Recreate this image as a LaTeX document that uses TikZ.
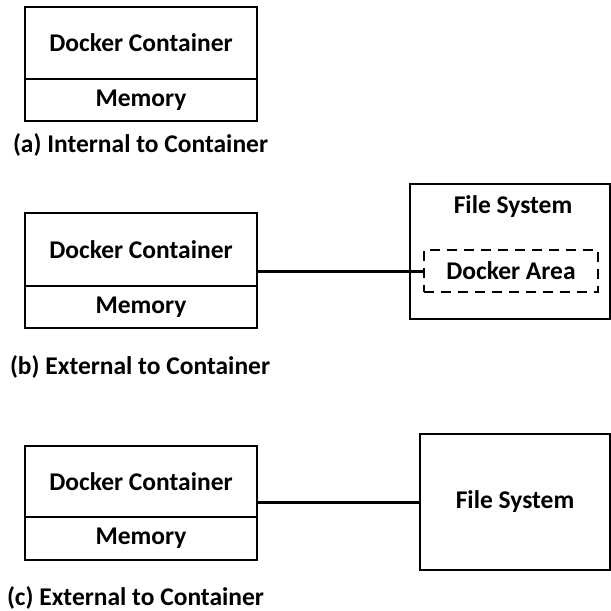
\documentclass[tikz,border=0pt]{standalone}
\usepackage{fontspec}
\setmainfont{Carlito}
\begin{document}
\begin{tikzpicture}[x=1pt,y=-1pt,
  every node/.style={font=\fontsize{25.5}{30}\selectfont\bfseries, inner sep=0pt, outer sep=0pt},
  box/.style={draw=black, line width=1.8pt, rectangle, anchor=north west},
  dashbox/.style={draw=black, line width=1.8pt, rectangle, dash pattern=on 10pt off 7pt},
  link/.style={draw=black, line width=3pt},
  caption/.style={anchor=west}]
\useasboundingbox (0,0) rectangle (611,611);
% (a)
\node[box, minimum width=232pt, minimum height=72pt] (dca) at (25,7) {Docker Container};
\node[box, minimum width=232pt, minimum height=42pt] (mema) at (dca.south west) {Memory};
\node[caption] (capa) at (13,145) {(a) Internal to Container};
% (b)
\node[box, minimum width=232pt, minimum height=73pt] (dcb) at (25,213) {Docker Container};
\node[box, minimum width=232pt, minimum height=42pt] (memb) at (dcb.south west) {Memory};
\node[box, minimum width=200pt, minimum height=135pt] (fsb) at (410,184) {};
\node (fsbt) at (513,207) {File System};
\node[dashbox, minimum width=174pt, minimum height=42pt] (da) at (511,271) {Docker Area};
\draw[link] (da.west) -- (da.west -| dcb.east);
\node[caption] (capb) at (10,367) {(b) External to Container};
% (c)
\node[box, minimum width=232pt, minimum height=71pt] (dcc) at (25,446) {Docker Container};
\node[box, minimum width=232pt, minimum height=43pt] (memc) at (dcc.south west) {Memory};
\node[box, minimum width=190pt, minimum height=136pt] (fsc) at (420,434) {File System};
\draw[link] (fsc.west) -- (fsc.west -| dcc.east);
\node[caption] (capc) at (7,598) {(c) External to Container};
\end{tikzpicture}
\end{document}
